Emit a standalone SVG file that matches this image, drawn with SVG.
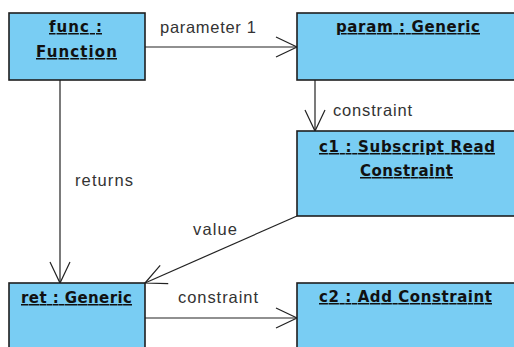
<svg xmlns="http://www.w3.org/2000/svg" width="514" height="347" viewBox="0 0 514 347">
<style>
.box{fill:#79cdf3;stroke:#1e1e1e;stroke-width:1.6}
.name{font-family:"DejaVu Sans",Verdana,sans-serif;font-weight:bold;font-size:15px;fill:#111;text-decoration:underline}
.lbl{font-family:"Liberation Sans",Arial,sans-serif;font-size:16.5px;fill:#333}
.conn{stroke:#222;stroke-width:1.2;fill:none}
</style>
<defs>
<marker id="open" markerUnits="userSpaceOnUse" markerWidth="30" markerHeight="30" viewBox="-25 -15 30 30" refX="0" refY="0" orient="auto">
<path d="M-21,-10 L0,0 L-21,10" fill="none" stroke="#222" stroke-width="1.2"/>
</marker>
</defs>
<rect width="514" height="347" fill="#fff"/>
<g id="connectors">
<g id="e1"><line class="conn" x1="145" y1="47" x2="297" y2="47" marker-end="url(#open)"/><text class="lbl" x="160" y="33" textLength="96" lengthAdjust="spacing">parameter 1</text></g>
<g id="e2"><line class="conn" x1="315" y1="80" x2="315" y2="131" marker-end="url(#open)"/><text class="lbl" x="333" y="116" textLength="79" lengthAdjust="spacing">constraint</text></g>
<g id="e3"><line class="conn" x1="60" y1="80" x2="60" y2="283" marker-end="url(#open)"/><text class="lbl" x="75" y="186" textLength="58" lengthAdjust="spacing">returns</text></g>
<g id="e4"><line class="conn" x1="297" y1="216" x2="145" y2="283" marker-end="url(#open)"/><text class="lbl" x="193" y="235" textLength="44" lengthAdjust="spacing">value</text></g>
<g id="e5"><line class="conn" x1="145" y1="318" x2="297" y2="318" marker-end="url(#open)"/><text class="lbl" x="178" y="303" textLength="80" lengthAdjust="spacing">constraint</text></g>
</g>
<g id="func"><rect class="box" x="9" y="13" width="136" height="67"/><text class="name" x="49" y="32" textLength="53" lengthAdjust="spacing">func :</text><text class="name" x="36" y="57" textLength="81" lengthAdjust="spacing">Function</text></g>
<g id="param"><rect class="box" x="297" y="13" width="230" height="67"/><text class="name" x="336" y="32" textLength="144" lengthAdjust="spacing">param : Generic</text></g>
<g id="c1"><rect class="box" x="297" y="131" width="230" height="85"/><text class="name" x="319" y="152" textLength="176" lengthAdjust="spacing">c1 : Subscript Read</text><text class="name" x="360" y="176" textLength="93" lengthAdjust="spacing">Constraint</text></g>
<g id="ret"><rect class="box" x="9" y="283" width="136" height="80"/><text class="name" x="21" y="303" textLength="111" lengthAdjust="spacing">ret : Generic</text></g>
<g id="c2"><rect class="box" x="297" y="283" width="230" height="80"/><text class="name" x="319" y="302" textLength="173" lengthAdjust="spacing">c2 : Add Constraint</text></g>
</svg>
